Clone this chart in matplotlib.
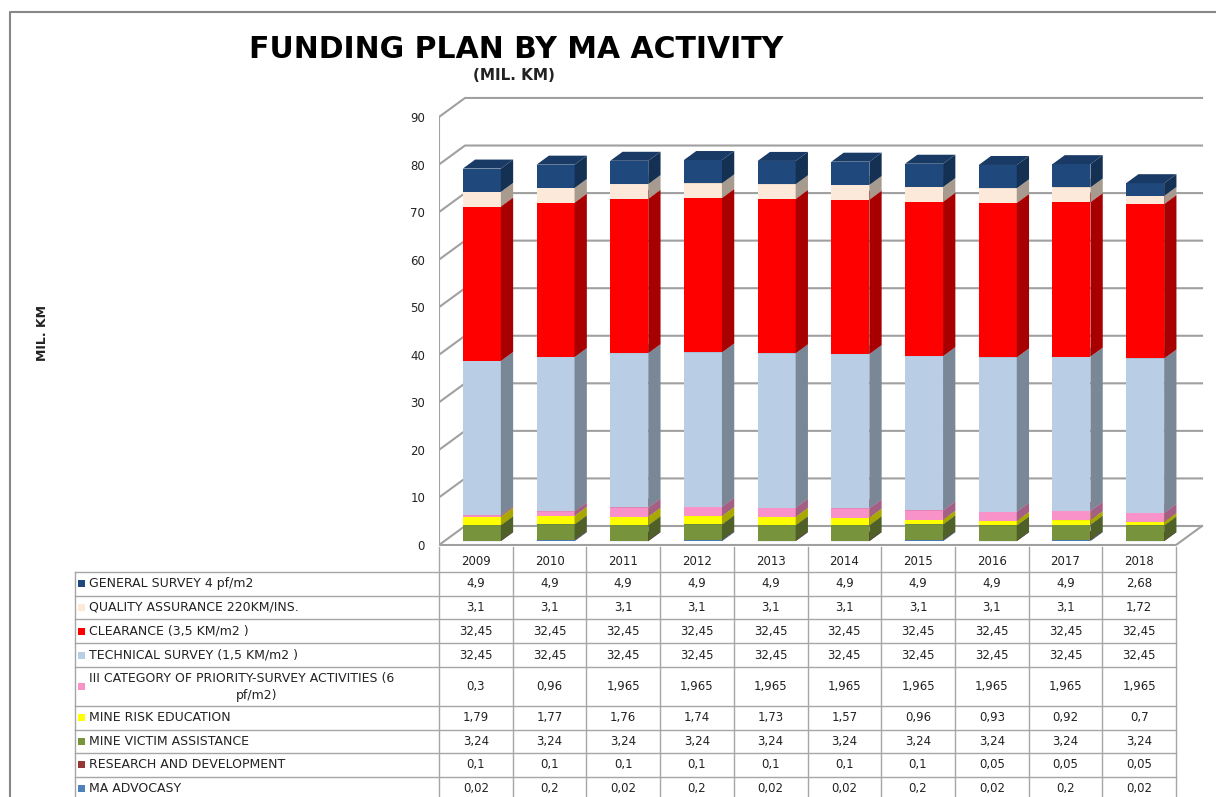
import matplotlib.pyplot as plt
from matplotlib.patches import Polygon, Rectangle
import matplotlib.colors as mcolors
import numpy as np

years = ["2009", "2010", "2011", "2012", "2013", "2014", "2015", "2016", "2017", "2018"]

general_survey = [4.9, 4.9, 4.9, 4.9, 4.9, 4.9, 4.9, 4.9, 4.9, 2.68]
quality_assurance = [3.1, 3.1, 3.1, 3.1, 3.1, 3.1, 3.1, 3.1, 3.1, 1.72]
clearance = [32.45, 32.45, 32.45, 32.45, 32.45, 32.45, 32.45, 32.45, 32.45, 32.45]
technical_survey = [32.45, 32.45, 32.45, 32.45, 32.45, 32.45, 32.45, 32.45, 32.45, 32.45]
category_iii = [0.3, 0.96, 1.965, 1.965, 1.965, 1.965, 1.965, 1.965, 1.965, 1.965]
mine_risk_edu = [1.79, 1.77, 1.76, 1.74, 1.73, 1.57, 0.96, 0.93, 0.92, 0.7]
victim_assist = [3.24, 3.24, 3.24, 3.24, 3.24, 3.24, 3.24, 3.24, 3.24, 3.24]
research_dev = [0.1, 0.1, 0.1, 0.1, 0.1, 0.1, 0.1, 0.05, 0.05, 0.05]
ma_advocacy = [0.02, 0.2, 0.02, 0.2, 0.02, 0.02, 0.2, 0.02, 0.2, 0.02]

# table order (top to bottom) = stack order reversed
series = [
    ("GENERAL SURVEY 4 pf/m2", general_survey, "#1F497D"),
    ("QUALITY ASSURANCE 220KM/INS.", quality_assurance, "#FDE9D9"),
    ("CLEARANCE (3,5 KM/m2 )", clearance, "#FF0000"),
    ("TECHNICAL SURVEY (1,5 KM/m2 )", technical_survey, "#B9CDE5"),
    ("III CATEGORY OF PRIORITY-SURVEY ACTIVITIES (6\npf/m2)", category_iii, "#F992C8"),
    ("MINE RISK EDUCATION", mine_risk_edu, "#FFFF00"),
    ("MINE VICTIM ASSISTANCE", victim_assist, "#77933C"),
    ("RESEARCH AND DEVELOPMENT", research_dev, "#953735"),
    ("MA ADVOCASY", ma_advocacy, "#4F81BD"),
]

W, H = 1216, 797
X0, COLW = 439, 73.7      # left of plot area, column width (px)
Y0, PXU = 545, 4.756      # zero line (px), px per unit
GRID = "#A0A0A0"

fig = plt.figure(figsize=(W / 100, H / 100), dpi=100)

# ---- table / frame axes in pixel units ----
tax = fig.add_axes([0, 0, 1, 1])
tax.set_xlim(0, W)
tax.set_ylim(H, 0)
tax.axis("off")

tax.plot([10, 10, W], [H, 12, 12], color="#888888", lw=1.5)

row_h = [25, 23.5, 23.5, 24, 24, 39, 23.5, 23.5, 23.5, 23.5]
edges = np.concatenate([[547], 547 + np.cumsum(row_h)])
ncol = len(years)
col_x = X0 + COLW * np.arange(ncol + 1)
tab_left = 75
tcol = "#A6A6A6"

# header row: only year cells are boxed
for x in col_x:
    tax.plot([x, x], [edges[0], H], color=tcol, lw=1)
tax.plot([tab_left, tab_left], [edges[1], H], color=tcol, lw=1)
for y in edges[1:-1]:
    tax.plot([tab_left, col_x[-1]], [y, y], color=tcol, lw=1)
for j, yr in enumerate(years):
    tax.text((col_x[j] + col_x[j + 1]) / 2, (edges[0] + edges[1]) / 2 + 2, yr,
             ha="center", va="center", fontsize=8.5, color="#222222")

for r, (name, vals, col) in enumerate(series):
    top, bot = edges[r + 1], edges[r + 2]
    yc = (top + bot) / 2
    tax.add_patch(Rectangle((78, yc - 3.5), 7, 7, color=col, lw=0))
    if "\n" in name:
        l1, l2 = name.split("\n")
        tax.text(89, yc - 8, l1, ha="left", va="center", fontsize=9, color="#222222")
        tax.text(257, yc + 9, l2, ha="center", va="center", fontsize=9, color="#222222")
    else:
        tax.text(89, yc, name, ha="left", va="center", fontsize=9, color="#222222")
    for j, v in enumerate(vals):
        tax.text((col_x[j] + col_x[j + 1]) / 2, yc, f"{v:g}".replace(".", ","),
                 ha="center", va="center", fontsize=8.5, color="#222222")

# ---- 3D-ish stacked column chart ----
xlo, xhi = -0.5, 10.0
ylo, yhi = -0.3, 96
px_l = X0
px_r = X0 + (xhi - xlo) * COLW
px_b = Y0 - ylo * PXU
px_t = Y0 - yhi * PXU
ax = fig.add_axes([px_l / W, (H - px_b) / H, (px_r - px_l) / W, (px_b - px_t) / H])
ax.set_xlim(xlo, xhi)
ax.set_ylim(ylo, yhi)
ax.patch.set_alpha(0)
for s in ax.spines.values():
    s.set_visible(False)
ax.set_xticks([])
ticks = list(range(0, 100, 10))
ax.set_yticks(ticks)
ax.tick_params(axis="y", length=0, pad=10, labelsize=8.5, labelcolor="#222222")

dxd = 26 / COLW   # wall depth in data units
dyd = 19 / PXU
xr = ncol - 0.5
for v in ticks:
    ax.plot([xlo, xlo + dxd, xr + dxd], [v, v + dyd, v + dyd], color=GRID, lw=1.5, zorder=1)
ax.plot([xlo, xlo], [0, 90], color=GRID, lw=1.5, zorder=1)
ax.plot([xlo, xr, xr + dxd], [0, 0, dyd], color=GRID, lw=1.5, zorder=1)

bw = 38 / COLW
bdx = 12.3 / COLW
bdy = 9 / PXU
xo = 6 / COLW
yo = 0.8
xs = np.arange(ncol) + xo

def shade(c, f):
    r, g, b = mcolors.to_rgb(c)
    return (r * f, g * f, b * f)

bottom = np.zeros(ncol) + yo
for name, vals, col in series[::-1]:
    vals = np.array(vals)
    ax.bar(xs, vals, width=bw, bottom=bottom, color=col, lw=0, zorder=3)
    for i in range(ncol):
        x1 = xs[i] + bw / 2
        x0 = xs[i] - bw / 2
        b0 = bottom[i]
        b1 = b0 + vals[i]
        ax.add_patch(Polygon([(x1, b0), (x1 + bdx, b0 + bdy), (x1 + bdx, b1 + bdy), (x1, b1)],
                             closed=True, color=shade(col, 0.66), lw=0, zorder=3))
        ax.add_patch(Polygon([(x0, b1), (x1, b1), (x1 + bdx, b1 + bdy), (x0 + bdx, b1 + bdy)],
                             closed=True, color=shade(col, 0.8), lw=0, zorder=3))
    bottom = bottom + vals

fig.text(516 / W, 1 - 50 / H, "FUNDING PLAN BY MA ACTIVITY", ha="center", va="center",
         fontsize=21.5, fontweight="bold")
fig.text(514 / W, 1 - 76 / H, "(MIL. KM)", ha="center", va="center",
         fontsize=11, fontweight="bold", color="#222222")
fig.text(43 / W, 1 - 333 / H, "MIL. KM", ha="center", va="center", rotation=90,
         fontsize=9, fontweight="bold", color="#222222")

fig.savefig("out.png", dpi=100)
